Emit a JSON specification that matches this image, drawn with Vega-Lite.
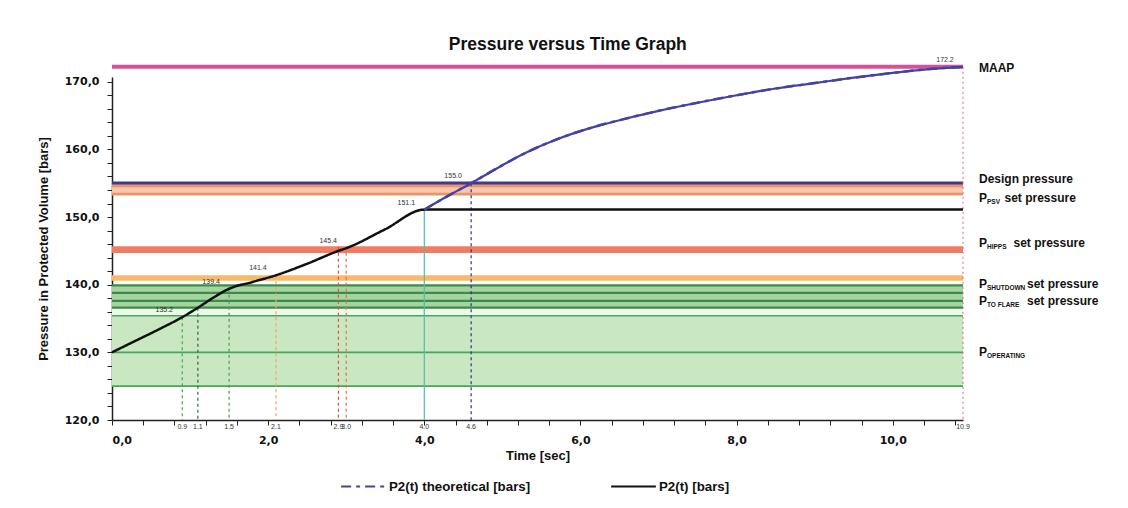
{
  "$schema": "https://vega.github.io/schema/vega-lite/v6.json",
  "width": 851,
  "height": 343,
  "autosize": {"type": "none"},
  "padding": {"left": 112, "top": 77, "right": 165, "bottom": 88},
  "background": "white",
  "title": {
    "text": "Pressure versus Time Graph",
    "font": "Liberation Sans",
    "fontSize": 17.5,
    "fontWeight": "bold",
    "color": "#111111",
    "frame": "bounds",
    "anchor": "middle",
    "offset": 2
  },
  "datasets": {
    "bands": [
      {"band": "psv", "lo": 153.4, "hi": 154.6},
      {"band": "hipps", "lo": 144.7, "hi": 145.7},
      {"band": "shutdown", "lo": 140.6, "hi": 141.4},
      {"band": "flare", "lo": 136.6, "hi": 139.9},
      {"band": "gap", "lo": 135.4, "hi": 136.6},
      {"band": "operating", "lo": 125.0, "hi": 135.4}
    ],
    "levels": [
      {"kind": "maap", "p": 172.2},
      {"kind": "design", "p": 155.0},
      {"kind": "psv_edge", "p": 154.6},
      {"kind": "psv_edge", "p": 153.4},
      {"kind": "flare_edge", "p": 139.9},
      {"kind": "flare_edge", "p": 138.8},
      {"kind": "flare_edge", "p": 137.6},
      {"kind": "flare_edge", "p": 136.6},
      {"kind": "op_edge", "p": 135.4},
      {"kind": "op_edge", "p": 130.0},
      {"kind": "op_edge", "p": 125.0}
    ],
    "drops": [
      {"k": "g1", "t": 0.9, "p": 135.2},
      {"k": "g2", "t": 1.1, "p": 136.6},
      {"k": "g3", "t": 1.5, "p": 139.4},
      {"k": "o", "t": 2.1, "p": 141.4},
      {"k": "r1", "t": 2.9, "p": 145.6},
      {"k": "r2", "t": 3.0, "p": 145.6},
      {"k": "c", "t": 4.0, "p": 151.1},
      {"k": "b", "t": 4.6, "p": 155.0},
      {"k": "p", "t": 10.9, "p": 172.2}
    ],
    "curves": [
      {"series": "P2(t) [bars]", "t": 0.0, "p": 130.0},
      {"series": "P2(t) [bars]", "t": 0.3, "p": 131.7},
      {"series": "P2(t) [bars]", "t": 0.6, "p": 133.4},
      {"series": "P2(t) [bars]", "t": 0.9, "p": 135.2},
      {"series": "P2(t) [bars]", "t": 1.1, "p": 136.6},
      {"series": "P2(t) [bars]", "t": 1.3, "p": 138.1},
      {"series": "P2(t) [bars]", "t": 1.5, "p": 139.4},
      {"series": "P2(t) [bars]", "t": 1.8, "p": 140.4},
      {"series": "P2(t) [bars]", "t": 2.1, "p": 141.4},
      {"series": "P2(t) [bars]", "t": 2.5, "p": 143.1},
      {"series": "P2(t) [bars]", "t": 2.9, "p": 145.0},
      {"series": "P2(t) [bars]", "t": 3.0, "p": 145.4},
      {"series": "P2(t) [bars]", "t": 3.5, "p": 148.2},
      {"series": "P2(t) [bars]", "t": 4.0, "p": 151.1},
      {"series": "P2(t) [bars]", "t": 10.9, "p": 151.1},
      {"series": "P2(t) theoretical [bars]", "t": 4.0, "p": 151.1},
      {"series": "P2(t) theoretical [bars]", "t": 4.3, "p": 153.1},
      {"series": "P2(t) theoretical [bars]", "t": 4.6, "p": 155.0},
      {"series": "P2(t) theoretical [bars]", "t": 4.9, "p": 157.0},
      {"series": "P2(t) theoretical [bars]", "t": 5.3, "p": 159.5},
      {"series": "P2(t) theoretical [bars]", "t": 5.7, "p": 161.5},
      {"series": "P2(t) theoretical [bars]", "t": 6.2, "p": 163.4},
      {"series": "P2(t) theoretical [bars]", "t": 6.6, "p": 164.6},
      {"series": "P2(t) theoretical [bars]", "t": 7.0, "p": 165.7},
      {"series": "P2(t) theoretical [bars]", "t": 7.5, "p": 166.9},
      {"series": "P2(t) theoretical [bars]", "t": 8.0, "p": 168.0},
      {"series": "P2(t) theoretical [bars]", "t": 8.5, "p": 169.0},
      {"series": "P2(t) theoretical [bars]", "t": 9.0, "p": 169.8},
      {"series": "P2(t) theoretical [bars]", "t": 9.5, "p": 170.6},
      {"series": "P2(t) theoretical [bars]", "t": 10.0, "p": 171.3},
      {"series": "P2(t) theoretical [bars]", "t": 10.4, "p": 171.8},
      {"series": "P2(t) theoretical [bars]", "t": 10.9, "p": 172.2}
    ],
    "marks": [
      {"t": 0.9, "p": 135.2},
      {"t": 1.5, "p": 139.4},
      {"t": 2.1, "p": 141.4},
      {"t": 3.0, "p": 145.4},
      {"t": 4.0, "p": 151.1},
      {"t": 4.6, "p": 155.0},
      {"t": 10.9, "p": 172.2}
    ],
    "plain": [
      {"name": "MAAP", "p": 172.1},
      {"name": "Design pressure", "p": 155.6}
    ],
    "setpoints": [
      {"sub": "PSV", "rest": "set pressure", "p": 152.8},
      {"sub": "HIPPS", "rest": "set pressure", "p": 146.2},
      {"sub": "SHUTDOWN", "rest": "set pressure", "p": 140.1},
      {"sub": "TO FLARE", "rest": "set pressure", "p": 137.6},
      {"sub": "OPERATING", "rest": "", "p": 130.1}
    ]
  },
  "config": {
    "view": {"stroke": null},
    "axis": {
      "grid": false,
      "labelFont": "DejaVu Sans",
      "labelFontWeight": "bold",
      "labelFontSize": 11,
      "labelColor": "#111111",
      "titleFont": "Liberation Sans",
      "titleFontSize": 13,
      "titleFontWeight": "bold",
      "titleColor": "#111111",
      "domainColor": "#222222",
      "domainWidth": 1.5,
      "tickColor": "#222222",
      "tickSize": 5,
      "labelOverlap": false
    },
    "text": {"font": "Liberation Sans"}
  },
  "resolve": {"scale": {"stroke": "independent"}},
  "layer": [
    {
      "data": {"name": "bands"},
      "mark": {"type": "rect"},
      "encoding": {
        "y": {"field": "lo", "type": "quantitative", "title": "Pressure in Protected Volume [bars]", "scale": {"domain": [120, 170.7], "nice": false, "zero": false},
          "axis": {"values": [120, 122, 124, 126, 128, 130, 132, 134, 136, 138, 140, 142, 144, 146, 148, 150, 152, 154, 156, 158, 160, 162, 164, 166, 168, 170], "labelExpr": "datum.value % 10 === 0 ? replace(format(datum.value, '.1f'), '.', ',') : ''", "labelPadding": 8, "titlePadding": 14}},
        "y2": {"field": "hi"},
        "fill": {
          "field": "band",
          "type": "nominal",
          "scale": {
            "domain": ["psv", "hipps", "shutdown", "flare", "gap", "operating"],
            "range": ["#f7c6ac", "#f07c62", "#f9ba68", "#a6d4a0", "#edf7ea", "#c9e8c2"]
          },
          "legend": null
        }
      }
    },
    {
      "data": {"name": "levels"},
      "mark": {"type": "rule"},
      "encoding": {
        "y": {"field": "p", "type": "quantitative", "title": "Pressure in Protected Volume [bars]", "scale": {"domain": [120, 170.7], "nice": false, "zero": false},
          "axis": {"values": [120, 122, 124, 126, 128, 130, 132, 134, 136, 138, 140, 142, 144, 146, 148, 150, 152, 154, 156, 158, 160, 162, 164, 166, 168, 170], "labelExpr": "datum.value % 10 === 0 ? replace(format(datum.value, '.1f'), '.', ',') : ''", "labelPadding": 8, "titlePadding": 14}},
        "stroke": {
          "field": "kind",
          "type": "nominal",
          "scale": {
            "domain": ["maap", "design", "psv_edge", "flare_edge", "op_edge"],
            "range": ["#d6519b", "#3f3a8c", "#e8956a", "#3d8b4a", "#4aa55a"]
          },
          "legend": null
        },
        "strokeWidth": {
          "field": "kind",
          "type": "nominal",
          "scale": {
            "domain": ["maap", "design", "psv_edge", "flare_edge", "op_edge"],
            "range": [4, 1.6, 0.8, 1, 1]
          },
          "legend": null
        }
      }
    },
    {
      "data": {"name": "drops"},
      "transform": [{"filter": "datum.k !== 'c' && datum.k !== 'p'"}],
      "mark": {"type": "rule", "strokeDash": [3, 3], "strokeWidth": 1.2},
      "encoding": {
        "x": {"field": "t", "type": "quantitative", "title": "Time [sec]", "scale": {"domain": [0, 10.9], "nice": false, "zero": false},
          "axis": {"values": [0, 0.4, 0.8, 1.2, 1.6, 2, 2.4, 2.8, 3.2, 3.6, 4, 4.4, 4.8, 5.2, 5.6, 6, 6.4, 6.8, 7.2, 7.6, 8, 8.4, 8.8, 9.2, 9.6, 10, 10.4, 10.8], "labelExpr": "datum.value % 2 === 0 ? replace(format(datum.value, '.1f'), '.', ',') : ''", "labelPadding": 9, "titlePadding": 4}},
        "y": {"field": "p", "type": "quantitative", "title": "Pressure in Protected Volume [bars]", "scale": {"domain": [120, 170.7], "nice": false, "zero": false},
          "axis": {"values": [120, 122, 124, 126, 128, 130, 132, 134, 136, 138, 140, 142, 144, 146, 148, 150, 152, 154, 156, 158, 160, 162, 164, 166, 168, 170], "labelExpr": "datum.value % 10 === 0 ? replace(format(datum.value, '.1f'), '.', ',') : ''", "labelPadding": 8, "titlePadding": 14}},
        "y2": {"datum": 120},
        "stroke": {
          "field": "k",
          "type": "nominal",
          "scale": {
            "domain": ["g1", "g2", "g3", "o", "r1", "r2", "b"],
            "range": ["#3fae52", "#2c6e3a", "#4f9a57", "#f5a55a", "#e0503c", "#f06a50", "#303090"]
          },
          "legend": null
        }
      }
    },
    {
      "data": {"name": "drops"},
      "transform": [{"filter": "datum.k === 'c'"}],
      "mark": {"type": "rule", "strokeWidth": 1.2, "color": "#4dbdb0"},
      "encoding": {
        "x": {"field": "t", "type": "quantitative", "title": "Time [sec]", "scale": {"domain": [0, 10.9], "nice": false, "zero": false},
          "axis": {"values": [0, 0.4, 0.8, 1.2, 1.6, 2, 2.4, 2.8, 3.2, 3.6, 4, 4.4, 4.8, 5.2, 5.6, 6, 6.4, 6.8, 7.2, 7.6, 8, 8.4, 8.8, 9.2, 9.6, 10, 10.4, 10.8], "labelExpr": "datum.value % 2 === 0 ? replace(format(datum.value, '.1f'), '.', ',') : ''", "labelPadding": 9, "titlePadding": 4}},
        "y": {"field": "p", "type": "quantitative", "title": "Pressure in Protected Volume [bars]", "scale": {"domain": [120, 170.7], "nice": false, "zero": false},
          "axis": {"values": [120, 122, 124, 126, 128, 130, 132, 134, 136, 138, 140, 142, 144, 146, 148, 150, 152, 154, 156, 158, 160, 162, 164, 166, 168, 170], "labelExpr": "datum.value % 10 === 0 ? replace(format(datum.value, '.1f'), '.', ',') : ''", "labelPadding": 8, "titlePadding": 14}},
        "y2": {"datum": 120}
      }
    },
    {
      "data": {"name": "drops"},
      "transform": [{"filter": "datum.k === 'p'"}],
      "mark": {"type": "rule", "strokeWidth": 1, "strokeDash": [2, 3], "color": "#e0609a"},
      "encoding": {
        "x": {"field": "t", "type": "quantitative", "title": "Time [sec]", "scale": {"domain": [0, 10.9], "nice": false, "zero": false},
          "axis": {"values": [0, 0.4, 0.8, 1.2, 1.6, 2, 2.4, 2.8, 3.2, 3.6, 4, 4.4, 4.8, 5.2, 5.6, 6, 6.4, 6.8, 7.2, 7.6, 8, 8.4, 8.8, 9.2, 9.6, 10, 10.4, 10.8], "labelExpr": "datum.value % 2 === 0 ? replace(format(datum.value, '.1f'), '.', ',') : ''", "labelPadding": 9, "titlePadding": 4}},
        "y": {"field": "p", "type": "quantitative", "title": "Pressure in Protected Volume [bars]", "scale": {"domain": [120, 170.7], "nice": false, "zero": false},
          "axis": {"values": [120, 122, 124, 126, 128, 130, 132, 134, 136, 138, 140, 142, 144, 146, 148, 150, 152, 154, 156, 158, 160, 162, 164, 166, 168, 170], "labelExpr": "datum.value % 10 === 0 ? replace(format(datum.value, '.1f'), '.', ',') : ''", "labelPadding": 8, "titlePadding": 14}},
        "y2": {"datum": 120}
      }
    },
    {
      "data": {"name": "curves"},
      "mark": {"type": "line", "strokeWidth": 2.5, "interpolate": "monotone"},
      "encoding": {
        "x": {"field": "t", "type": "quantitative", "title": "Time [sec]", "scale": {"domain": [0, 10.9], "nice": false, "zero": false},
          "axis": {"values": [0, 0.4, 0.8, 1.2, 1.6, 2, 2.4, 2.8, 3.2, 3.6, 4, 4.4, 4.8, 5.2, 5.6, 6, 6.4, 6.8, 7.2, 7.6, 8, 8.4, 8.8, 9.2, 9.6, 10, 10.4, 10.8], "labelExpr": "datum.value % 2 === 0 ? replace(format(datum.value, '.1f'), '.', ',') : ''", "labelPadding": 9, "titlePadding": 4}},
        "y": {"field": "p", "type": "quantitative", "title": "Pressure in Protected Volume [bars]", "scale": {"domain": [120, 170.7], "nice": false, "zero": false},
          "axis": {"values": [120, 122, 124, 126, 128, 130, 132, 134, 136, 138, 140, 142, 144, 146, 148, 150, 152, 154, 156, 158, 160, 162, 164, 166, 168, 170], "labelExpr": "datum.value % 10 === 0 ? replace(format(datum.value, '.1f'), '.', ',') : ''", "labelPadding": 8, "titlePadding": 14}},
        "color": {
          "field": "series",
          "type": "nominal",
          "scale": {"domain": ["P2(t) theoretical [bars]", "P2(t) [bars]"], "range": ["#4444a0", "#111111"]},
          "legend": {
            "title": null,
            "orient": "none",
            "direction": "horizontal",
            "legendX": 228,
            "legendY": 386,
            "symbolType": "stroke",
            "symbolSize": 2000,
            "symbolStrokeWidth": 2,
            "columnPadding": 76,
            "labelFont": "Liberation Sans",
            "labelFontSize": 13.3,
            "labelFontWeight": "bold",
            "labelColor": "#111111",
            "labelOffset": 2
          }
        },
        "strokeDash": {
          "field": "series",
          "type": "nominal",
          "scale": {"domain": ["P2(t) theoretical [bars]", "P2(t) [bars]"], "range": [[10, 5, 4, 5], [1, 0]]}
        }
      }
    },
    {
      "data": {"name": "curves"},
      "transform": [{"filter": "datum.series === 'P2(t) theoretical [bars]'"}],
      "mark": {"type": "line", "strokeWidth": 2.2, "interpolate": "monotone", "color": "#4444a0"},
      "encoding": {
        "x": {"field": "t", "type": "quantitative", "title": "Time [sec]", "scale": {"domain": [0, 10.9], "nice": false, "zero": false},
          "axis": {"values": [0, 0.4, 0.8, 1.2, 1.6, 2, 2.4, 2.8, 3.2, 3.6, 4, 4.4, 4.8, 5.2, 5.6, 6, 6.4, 6.8, 7.2, 7.6, 8, 8.4, 8.8, 9.2, 9.6, 10, 10.4, 10.8], "labelExpr": "datum.value % 2 === 0 ? replace(format(datum.value, '.1f'), '.', ',') : ''", "labelPadding": 9, "titlePadding": 4}},
        "y": {"field": "p", "type": "quantitative", "title": "Pressure in Protected Volume [bars]", "scale": {"domain": [120, 170.7], "nice": false, "zero": false},
          "axis": {"values": [120, 122, 124, 126, 128, 130, 132, 134, 136, 138, 140, 142, 144, 146, 148, 150, 152, 154, 156, 158, 160, 162, 164, 166, 168, 170], "labelExpr": "datum.value % 10 === 0 ? replace(format(datum.value, '.1f'), '.', ',') : ''", "labelPadding": 8, "titlePadding": 14}}
      }
    },
    {
      "data": {"name": "drops"},
      "mark": {"type": "text", "fontSize": 7, "color": "#333333", "baseline": "top", "dy": 3},
      "encoding": {
        "x": {"field": "t", "type": "quantitative", "title": "Time [sec]", "scale": {"domain": [0, 10.9], "nice": false, "zero": false},
          "axis": {"values": [0, 0.4, 0.8, 1.2, 1.6, 2, 2.4, 2.8, 3.2, 3.6, 4, 4.4, 4.8, 5.2, 5.6, 6, 6.4, 6.8, 7.2, 7.6, 8, 8.4, 8.8, 9.2, 9.6, 10, 10.4, 10.8], "labelExpr": "datum.value % 2 === 0 ? replace(format(datum.value, '.1f'), '.', ',') : ''", "labelPadding": 9, "titlePadding": 4}},
        "y": {"datum": 120, "type": "quantitative", "scale": {"domain": [120, 170.7], "nice": false, "zero": false},
          "axis": {"values": [120, 122, 124, 126, 128, 130, 132, 134, 136, 138, 140, 142, 144, 146, 148, 150, 152, 154, 156, 158, 160, 162, 164, 166, 168, 170], "labelExpr": "datum.value % 10 === 0 ? replace(format(datum.value, '.1f'), '.', ',') : ''", "labelPadding": 8, "titlePadding": 14}},
        "text": {"field": "t", "type": "quantitative", "format": ".1f"}
      }
    },
    {
      "data": {"name": "marks"},
      "mark": {"type": "text", "fontSize": 7, "color": "#333333", "dx": -18, "dy": -7},
      "encoding": {
        "x": {"field": "t", "type": "quantitative", "title": "Time [sec]", "scale": {"domain": [0, 10.9], "nice": false, "zero": false},
          "axis": {"values": [0, 0.4, 0.8, 1.2, 1.6, 2, 2.4, 2.8, 3.2, 3.6, 4, 4.4, 4.8, 5.2, 5.6, 6, 6.4, 6.8, 7.2, 7.6, 8, 8.4, 8.8, 9.2, 9.6, 10, 10.4, 10.8], "labelExpr": "datum.value % 2 === 0 ? replace(format(datum.value, '.1f'), '.', ',') : ''", "labelPadding": 9, "titlePadding": 4}},
        "y": {"field": "p", "type": "quantitative", "title": "Pressure in Protected Volume [bars]", "scale": {"domain": [120, 170.7], "nice": false, "zero": false},
          "axis": {"values": [120, 122, 124, 126, 128, 130, 132, 134, 136, 138, 140, 142, 144, 146, 148, 150, 152, 154, 156, 158, 160, 162, 164, 166, 168, 170], "labelExpr": "datum.value % 10 === 0 ? replace(format(datum.value, '.1f'), '.', ',') : ''", "labelPadding": 8, "titlePadding": 14}},
        "text": {"field": "p", "type": "quantitative", "format": ".1f"}
      }
    },
    {
      "data": {"name": "plain"},
      "mark": {"type": "text", "fontSize": 12, "fontWeight": "bold", "color": "#111111", "align": "left", "dx": 16},
      "encoding": {
        "x": {"datum": 10.9, "type": "quantitative", "scale": {"domain": [0, 10.9], "nice": false, "zero": false},
          "axis": {"values": [0, 0.4, 0.8, 1.2, 1.6, 2, 2.4, 2.8, 3.2, 3.6, 4, 4.4, 4.8, 5.2, 5.6, 6, 6.4, 6.8, 7.2, 7.6, 8, 8.4, 8.8, 9.2, 9.6, 10, 10.4, 10.8], "labelExpr": "datum.value % 2 === 0 ? replace(format(datum.value, '.1f'), '.', ',') : ''", "labelPadding": 9, "titlePadding": 4}},
        "y": {"field": "p", "type": "quantitative", "title": "Pressure in Protected Volume [bars]", "scale": {"domain": [120, 170.7], "nice": false, "zero": false},
          "axis": {"values": [120, 122, 124, 126, 128, 130, 132, 134, 136, 138, 140, 142, 144, 146, 148, 150, 152, 154, 156, 158, 160, 162, 164, 166, 168, 170], "labelExpr": "datum.value % 10 === 0 ? replace(format(datum.value, '.1f'), '.', ',') : ''", "labelPadding": 8, "titlePadding": 14}},
        "text": {"field": "name"}
      }
    },
    {
      "data": {"name": "setpoints"},
      "mark": {"type": "text", "fontSize": 12, "fontWeight": "bold", "color": "#111111", "align": "left", "dx": 16},
      "encoding": {
        "x": {"datum": 10.9, "type": "quantitative", "scale": {"domain": [0, 10.9], "nice": false, "zero": false},
          "axis": {"values": [0, 0.4, 0.8, 1.2, 1.6, 2, 2.4, 2.8, 3.2, 3.6, 4, 4.4, 4.8, 5.2, 5.6, 6, 6.4, 6.8, 7.2, 7.6, 8, 8.4, 8.8, 9.2, 9.6, 10, 10.4, 10.8], "labelExpr": "datum.value % 2 === 0 ? replace(format(datum.value, '.1f'), '.', ',') : ''", "labelPadding": 9, "titlePadding": 4}},
        "y": {"field": "p", "type": "quantitative", "title": "Pressure in Protected Volume [bars]", "scale": {"domain": [120, 170.7], "nice": false, "zero": false},
          "axis": {"values": [120, 122, 124, 126, 128, 130, 132, 134, 136, 138, 140, 142, 144, 146, 148, 150, 152, 154, 156, 158, 160, 162, 164, 166, 168, 170], "labelExpr": "datum.value % 10 === 0 ? replace(format(datum.value, '.1f'), '.', ',') : ''", "labelPadding": 8, "titlePadding": 14}},
        "text": {"value": "P"}
      }
    },
    {
      "data": {"name": "setpoints"},
      "mark": {"type": "text", "fontSize": 6.5, "fontWeight": "bold", "color": "#111111", "align": "left", "dx": 24, "dy": 4},
      "encoding": {
        "x": {"datum": 10.9, "type": "quantitative", "scale": {"domain": [0, 10.9], "nice": false, "zero": false},
          "axis": {"values": [0, 0.4, 0.8, 1.2, 1.6, 2, 2.4, 2.8, 3.2, 3.6, 4, 4.4, 4.8, 5.2, 5.6, 6, 6.4, 6.8, 7.2, 7.6, 8, 8.4, 8.8, 9.2, 9.6, 10, 10.4, 10.8], "labelExpr": "datum.value % 2 === 0 ? replace(format(datum.value, '.1f'), '.', ',') : ''", "labelPadding": 9, "titlePadding": 4}},
        "y": {"field": "p", "type": "quantitative", "title": "Pressure in Protected Volume [bars]", "scale": {"domain": [120, 170.7], "nice": false, "zero": false},
          "axis": {"values": [120, 122, 124, 126, 128, 130, 132, 134, 136, 138, 140, 142, 144, 146, 148, 150, 152, 154, 156, 158, 160, 162, 164, 166, 168, 170], "labelExpr": "datum.value % 10 === 0 ? replace(format(datum.value, '.1f'), '.', ',') : ''", "labelPadding": 8, "titlePadding": 14}},
        "text": {"field": "sub"}
      }
    },
    {
      "data": {"name": "setpoints"},
      "mark": {"type": "text", "fontSize": 12, "fontWeight": "bold", "color": "#111111", "align": "left", "dx": {"expr": "28 + 4.5 * length(datum.sub)"}},
      "encoding": {
        "x": {"datum": 10.9, "type": "quantitative", "scale": {"domain": [0, 10.9], "nice": false, "zero": false},
          "axis": {"values": [0, 0.4, 0.8, 1.2, 1.6, 2, 2.4, 2.8, 3.2, 3.6, 4, 4.4, 4.8, 5.2, 5.6, 6, 6.4, 6.8, 7.2, 7.6, 8, 8.4, 8.8, 9.2, 9.6, 10, 10.4, 10.8], "labelExpr": "datum.value % 2 === 0 ? replace(format(datum.value, '.1f'), '.', ',') : ''", "labelPadding": 9, "titlePadding": 4}},
        "y": {"field": "p", "type": "quantitative", "title": "Pressure in Protected Volume [bars]", "scale": {"domain": [120, 170.7], "nice": false, "zero": false},
          "axis": {"values": [120, 122, 124, 126, 128, 130, 132, 134, 136, 138, 140, 142, 144, 146, 148, 150, 152, 154, 156, 158, 160, 162, 164, 166, 168, 170], "labelExpr": "datum.value % 10 === 0 ? replace(format(datum.value, '.1f'), '.', ',') : ''", "labelPadding": 8, "titlePadding": 14}},
        "text": {"field": "rest"}
      }
    }
  ]
}
